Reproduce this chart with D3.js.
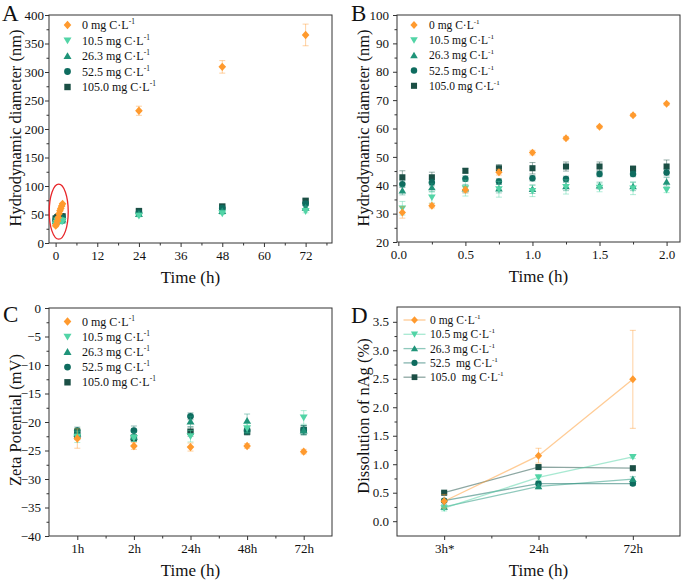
<!DOCTYPE html>
<html><head><meta charset="utf-8">
<script src="https://cdn.jsdelivr.net/npm/d3@7"></script>
<style>body{margin:0;background:#fff}svg{display:block}</style>
</head><body><svg id="c" width="683" height="582"></svg>
<script>
// ---------- data ----------
const seriesLabels = ["0 mg C·L", "10.5 mg C·L", "26.3 mg C·L", "52.5 mg C·L", "105.0 mg C·L"];
const seriesLabelsD = ["0 mg C·L", "10.5 mg C·L", "26.3 mg C·L", "52.5  mg C·L", "105.0  mg C·L"];

// Panel A (long times, nm)
const timeA = [24, 48, 72];
const diaA0 = [232, 309, 365];   const errA0 = [8, 11, 19];
const diaA1 = [48, 52, 56];      const errA1 = [2, 2, 3];
const diaA2 = [51, 56, 62];      const errA2 = [2, 2, 3];
const diaA3 = [53, 61, 69];      const errA3 = [2, 2, 3];
const diaA4 = [56, 64, 74];      const errA4 = [2, 2, 3];

// Panel B (first 2 h, nm) — also the early points of panel A
const timeB = [0.03, 0.25, 0.5, 0.75, 1.0, 1.25, 1.5, 1.75, 2.0];
const diaB0 = [30.4, 32.8, 38.4, 44.6, 51.5, 56.6, 60.6, 64.7, 68.7];
const errB0 = [2.0, 0.8, 1.0, 1.0, 0.8, 0.6, 0.5, 0.5, 0.5];
const diaB1 = [31.9, 35.7, 39.0, 38.6, 38.0, 39.4, 39.2, 38.9, 38.4];
const errB1 = [2.4, 2.0, 2.8, 2.8, 2.0, 2.5, 1.5, 2.2, 1.0];
const diaB2 = [38.1, 39.2, 38.8, 38.8, 38.6, 39.6, 39.9, 39.6, 41.2];
const errB2 = [1.5, 1.5, 1.5, 1.5, 1.5, 1.5, 1.2, 1.5, 1.5];
const diaB3 = [40.4, 41.0, 42.3, 41.3, 42.5, 42.2, 44.0, 44.0, 44.5];
const errB3 = [1.2, 1.2, 1.0, 1.0, 1.0, 1.0, 1.0, 1.0, 1.2];
const diaB4 = [42.8, 42.8, 45.1, 46.0, 46.0, 46.6, 46.6, 45.8, 46.6];
const errB4 = [2.3, 1.8, 0.8, 1.3, 2.0, 1.6, 1.6, 1.0, 2.3];

// Panel C (zeta potential, mV)
const catsC = ["1h", "2h", "24h", "48h", "72h"];
const zetaC0 = [-22.9, -24.2, -24.4, -24.2, -25.2]; const errC0 = [1.7, 0.6, 0.7, 0.4, 0.4];
const zetaC1 = [-22.6, -22.8, -22.5, -21.1, -19.2]; const errC1 = [1.0, 0.6, 1.0, 0.8, 1.2];
const zetaC2 = [-22.0, -22.6, -19.9, -19.8, -21.5]; const errC2 = [0.8, 0.8, 0.9, 1.2, 0.8];
const zetaC3 = [-21.5, -21.5, -19.0, -21.5, -21.4]; const errC3 = [0.6, 0.8, 0.6, 0.6, 0.8];
const zetaC4 = [-22.3, -22.8, -21.7, -21.7, -21.4]; const errC4 = [0.8, 0.6, 0.8, 0.6, 0.8];

// Panel D (dissolution, %)
const catsD = ["3h*", "24h", "72h"];
const dissD0 = [0.35, 1.15, 2.49]; const errD0 = [0.12, 0.13, 0.86];
const dissD1 = [0.23, 0.77, 1.13]; const errD1 = [0.05, 0.05, 0.03];
const dissD2 = [0.25, 0.61, 0.74]; const errD2 = [0.04, 0.04, 0.04];
const dissD3 = [0.36, 0.66, 0.66]; const errD3 = [0.03, 0.03, 0.03];
const dissD4 = [0.50, 0.95, 0.93]; const errD4 = [0.02, 0.02, 0.02];

// ---------- style ----------
const colors = ["#FF9A2E", "#52D4A6", "#1F9479", "#0E6C5F", "#1B4F45"];
const shapes = ["diamond", "down", "up", "circle", "square"];
const FONT = "'Liberation Serif','Times New Roman',serif";

const svg = d3.select("#c");

function shapePath(s, r) {
  const p = d3.path();
  if (s === "diamond") { p.moveTo(0,-r*1.05); p.lineTo(r*0.95,0); p.lineTo(0,r*1.05); p.lineTo(-r*0.95,0); p.closePath(); }
  else if (s === "down") { p.moveTo(-r,-r*0.75); p.lineTo(r,-r*0.75); p.lineTo(0,r*0.95); p.closePath(); }
  else if (s === "up") { p.moveTo(-r,r*0.75); p.lineTo(r,r*0.75); p.lineTo(0,-r*0.95); p.closePath(); }
  else if (s === "circle") { p.arc(0,0,r*0.85,0,Math.PI*2); }
  else { const h=r*0.8; p.rect(-h,-h,2*h,2*h); }
  return p.toString();
}

function panel(cfg) {
  const g = svg.append("g");
  const x = d3.scaleLinear().domain(cfg.xDomain).range([cfg.x0, cfg.x1]);
  const y = d3.scaleLinear().domain(cfg.yDomain).range([cfg.y1, cfg.y0]);

  // minor ticks
  g.append("g").attr("transform", `translate(0,${cfg.y1})`)
    .call(d3.axisBottom(x).tickValues(cfg.xMinor).tickFormat("").tickSize(2.5).tickSizeOuter(0));
  g.append("g").attr("transform", `translate(${cfg.x0},0)`)
    .call(d3.axisLeft(y).tickValues(cfg.yMinor).tickFormat("").tickSize(2.5).tickSizeOuter(0));
  // major ticks
  const xa = d3.axisBottom(x).tickValues(cfg.xTicks).tickSize(4).tickPadding(4).tickSizeOuter(0);
  if (cfg.xFormat) xa.tickFormat(cfg.xFormat);
  g.append("g").attr("class","xa").attr("transform", `translate(0,${cfg.y1})`).call(xa);
  const ya = d3.axisLeft(y).tickValues(cfg.yTicks).tickSize(4).tickPadding(cfg.yPad).tickSizeOuter(0);
  if (cfg.yFormat) ya.tickFormat(cfg.yFormat);
  g.append("g").attr("transform", `translate(${cfg.x0},0)`).call(ya);
  g.selectAll(".domain").remove();
  g.selectAll(".tick line").attr("stroke", "#333");
  g.selectAll(".tick text").attr("font-family", FONT).attr("font-size", 13).attr("fill", "#111");

  // frame
  g.append("rect").attr("x", cfg.x0).attr("y", cfg.y0)
    .attr("width", cfg.x1 - cfg.x0).attr("height", cfg.y1 - cfg.y0)
    .attr("fill", "none").attr("stroke", "#333").attr("stroke-width", 1);

  // titles
  g.append("text").attr("x", (cfg.x0 + cfg.x1) / 2).attr("y", cfg.y1 + 40)
    .attr("text-anchor", "middle").attr("font-family", FONT).attr("font-size", 17).attr("fill", "#111")
    .text("Time (h)");
  g.append("text").attr("transform", `translate(${cfg.yTitleX},${cfg.yTitleY}) rotate(-90)`)
    .attr("text-anchor", "middle").attr("font-family", FONT).attr("font-size", cfg.yTitleSize).attr("fill", "#111")
    .text(cfg.yTitle);
  g.append("text").attr("x", cfg.letterX).attr("y", cfg.letterY)
    .attr("font-family", FONT).attr("font-size", 23).attr("fill", "#111").text(cfg.letter);

  const plot = g.append("g");
  // series drawn from last to first so orange is on top
  for (let s = cfg.series.length - 1; s >= 0; s--) {
    const ser = cfg.series[s];
    const pts = ser.xs.map((xv, i) => ({ x: xv, y: ser.ys[i], e: ser.es[i] }));
    const sg = plot.append("g");
    if (cfg.lines) {
      sg.append("path").datum(pts)
        .attr("d", d3.line().x(d => x(d.x)).y(d => y(d.y)))
        .attr("fill", "none").attr("stroke", colors[s]).attr("stroke-opacity", 0.5).attr("stroke-width", 1.3);
    }
    const eb = sg.selectAll(".eb").data(pts).join("g").attr("stroke", colors[s]).attr("stroke-opacity", 0.45).attr("stroke-width", 1);
    eb.append("line").attr("x1", d => x(d.x)).attr("x2", d => x(d.x)).attr("y1", d => y(d.y - d.e)).attr("y2", d => y(d.y + d.e));
    eb.append("line").attr("x1", d => x(d.x) - 3).attr("x2", d => x(d.x) + 3).attr("y1", d => y(d.y - d.e)).attr("y2", d => y(d.y - d.e));
    eb.append("line").attr("x1", d => x(d.x) - 3).attr("x2", d => x(d.x) + 3).attr("y1", d => y(d.y + d.e)).attr("y2", d => y(d.y + d.e));
    sg.selectAll(".m").data(pts).join("path")
      .attr("transform", d => `translate(${x(d.x)},${y(d.y)})`)
      .attr("d", shapePath(shapes[s], cfg.mr)).attr("fill", colors[s]);
  }

  // legend
  const lg = g.append("g");
  cfg.labels.forEach((lab, i) => {
    const yy = cfg.legY + i * cfg.legDy;
    if (cfg.lines) {
      lg.append("line").attr("x1", cfg.legX - 11).attr("x2", cfg.legX + 11).attr("y1", yy).attr("y2", yy)
        .attr("stroke", colors[i]).attr("stroke-opacity", 0.5).attr("stroke-width", 1.3);
    }
    lg.append("path").attr("transform", `translate(${cfg.legX},${yy})`).attr("d", shapePath(shapes[i], cfg.legR)).attr("fill", colors[i]);
    const t = lg.append("text").attr("x", cfg.legTextX).attr("y", yy + 4)
      .attr("font-family", FONT).attr("font-size", cfg.legFont).attr("fill", "#111").attr("xml:space", "preserve");
    t.append("tspan").text(lab);
    t.append("tspan").attr("dy", -5).attr("font-size", cfg.legFont * 0.62).text("-1");
  });
  return { g, x, y };
}

function seriesOf(xs, arrs, errs) { return arrs.map((a, i) => ({ xs: xs, ys: a, es: errs[i] })); }

// Panel A
const seriesA = [
  [diaB0, errB0, diaA0, errA0], [diaB1, errB1, diaA1, errA1], [diaB2, errB2, diaA2, errA2],
  [diaB3, errB3, diaA3, errA3], [diaB4, errB4, diaA4, errA4]
].map(([yb, eb, ya, ea]) => ({ xs: timeB.concat(timeA), ys: yb.concat(ya), es: eb.concat(ea) }));

const pA = panel({
  x0: 49, x1: 332, y0: 15, y1: 243, xDomain: [-1.9, 79.6], yDomain: [0, 400],
  xTicks: d3.range(0, 73, 12), xMinor: d3.range(6, 80, 12),
  yTicks: d3.range(0, 401, 50), yMinor: d3.range(25, 400, 50), yPad: 1,
  yTitle: "Hydrodynamic diameter (nm)", yTitleX: 21, yTitleY: 128, yTitleSize: 16.5,
  letter: "A", letterX: 2, letterY: 21,
  series: seriesA, mr: 4, lines: false,
  labels: seriesLabels, legX: 67.5, legY: 25, legDy: 15.5, legTextX: 82, legFont: 12, legR: 4
});
// red ellipse annotation around the 0–2 h points
pA.g.append("ellipse").attr("cx", pA.x(0.9)).attr("cy", pA.y(55))
  .attr("rx", 9.5).attr("ry", 27.5).attr("fill", "none").attr("stroke", "#E8262A").attr("stroke-width", 1.3);

// Panel B
panel({
  x0: 397, x1: 680, y0: 15, y1: 242, xDomain: [-0.01, 2.1], yDomain: [20, 100],
  xTicks: [0, 0.5, 1.0, 1.5, 2.0], xMinor: [0.25, 0.75, 1.25, 1.75], xFormat: d3.format(".1f"),
  yTicks: d3.range(20, 101, 10), yMinor: d3.range(25, 100, 10), yPad: 4,
  yTitle: "Hydrodynamic diameter (nm)", yTitleX: 369, yTitleY: 128, yTitleSize: 16.5,
  letter: "B", letterX: 351, letterY: 21,
  series: seriesOf(timeB, [diaB0, diaB1, diaB2, diaB3, diaB4], [errB0, errB1, errB2, errB3, errB4]),
  mr: 3.8, lines: false,
  labels: seriesLabels, legX: 414, legY: 25, legDy: 15.2, legTextX: 429, legFont: 11.5, legR: 3.8
});

// Panel C
panel({
  x0: 49, x1: 332, y0: 308, y1: 536, xDomain: [0.5, 5.5], yDomain: [-40, 0],
  xTicks: [1, 2, 3, 4, 5], xMinor: [1.5, 2.5, 3.5, 4.5], xFormat: (d, i) => catsC[i],
  yTicks: d3.range(-40, 1, 5), yMinor: d3.range(-37.5, 0, 5), yPad: 4,
  yFormat: d => d === 0 ? "0" : d3.format("d")(d),
  yTitle: "Zeta Potential (mV)", yTitleX: 21, yTitleY: 420, yTitleSize: 16.5,
  letter: "C", letterX: 3, letterY: 322,
  series: seriesOf([1, 2, 3, 4, 5], [zetaC0, zetaC1, zetaC2, zetaC3, zetaC4], [errC0, errC1, errC2, errC3, errC4]),
  mr: 4, lines: false,
  labels: seriesLabels, legX: 67.5, legY: 321.5, legDy: 15.2, legTextX: 82, legFont: 12, legR: 4
});

// Panel D
panel({
  x0: 397, x1: 680, y0: 307, y1: 536, xDomain: [0.5, 3.5], yDomain: [-0.26, 3.76],
  xTicks: [1, 2, 3], xMinor: [1.5, 2.5], xFormat: (d, i) => catsD[i],
  yTicks: d3.range(0, 3.51, 0.5), yMinor: [0.25, 0.75, 1.25, 1.75, 2.25, 2.75, 3.25], yPad: 4,
  yFormat: d3.format(".1f"),
  yTitle: "Dissolution of nAg (%)", yTitleX: 369, yTitleY: 416, yTitleSize: 16.5,
  letter: "D", letterX: 351, letterY: 323,
  series: seriesOf([1, 2, 3], [dissD0, dissD1, dissD2, dissD3, dissD4], [errD0, errD1, errD2, errD3, errD4]),
  mr: 3.8, lines: true,
  labels: seriesLabelsD, legX: 414.5, legY: 320, legDy: 14.3, legTextX: 430, legFont: 11.5, legR: 3.6
});
</script></body></html>
